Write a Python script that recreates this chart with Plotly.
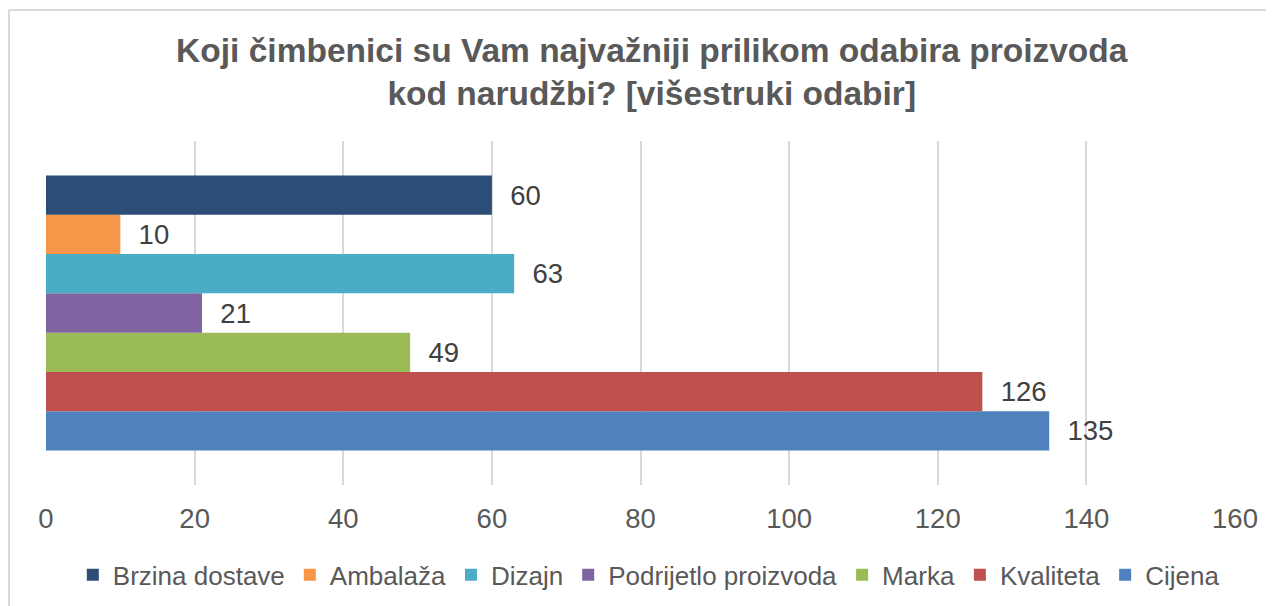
import plotly.graph_objects as go

# Data (legend order, top to bottom in the chart)
series = ["Brzina dostave", "Ambalaža", "Dizajn", "Podrijetlo proizvoda", "Marka", "Kvaliteta", "Cijena"]
values = [60, 10, 63, 21, 49, 126, 135]
colors = ["#2C4D75", "#F79646", "#4BACC6", "#8064A2", "#9BBB59", "#C0504D", "#4F81BD"]
category = ["Odgovori"]
x_ticks = [0, 20, 40, 60, 80, 100, 120, 140, 160]

title_text = "Koji čimbenici su Vam najvažniji prilikom odabira proizvoda<br>kod narudžbi? [višestruki odabir]"

FONT = "Liberation Sans, Arial, sans-serif"

fig = go.Figure()
# Plotly places the first grouped trace at the bottom, so add in reverse
for name, val, col in reversed(list(zip(series, values, colors))):
    fig.add_trace(go.Bar(
        y=category, x=[val], name=name, orientation="h",
        marker=dict(color=col, line=dict(width=0)),
        text=[val], texttemplate="\u00a0\u00a0%{x}", textposition="outside",
        textfont=dict(size=27.5, color="#404040", family=FONT),
        constraintext="none", cliponaxis=False,
    ))

fig.update_layout(
    width=1266, height=598,
    paper_bgcolor="white", plot_bgcolor="white",
    margin=dict(l=38, r=39, t=133, b=121),
    barmode="group", bargap=0.2, bargroupgap=0,
    font=dict(family=FONT, color="#595959"),
    title=dict(text=title_text, x=0.5085, xanchor="center", xref="container",
               y=0.91, yanchor="top", yref="container",
               font=dict(size=33.5, color="#595959", family=FONT, weight="bold")),
    xaxis=dict(range=[x_ticks[0], x_ticks[-1]], tickvals=x_ticks,
               showgrid=True, gridcolor="#D9D9D9", gridwidth=2,
               zeroline=False, showline=False, ticks="", ticklabelstandoff=14,
               tickfont=dict(size=27.5, color="#595959")),
    yaxis=dict(showticklabels=False, showgrid=False, zeroline=False, showline=False, ticks=""),
    legend=dict(orientation="h", x=0.507, xanchor="center",
                yref="container", y=0.052, yanchor="middle",
                traceorder="reversed", font=dict(size=26, color="#595959"),
                itemwidth=30, tracegroupgap=0),
    showlegend=True,
)

# Chart-area border (left and top edges visible in the reference)
fig.add_shape(type="line", xref="paper", yref="paper", x0=-0.0311, x1=-0.0311, y0=-0.5, y1=1.381,
              line=dict(color="#D9D9D9", width=2))
fig.add_shape(type="line", xref="paper", yref="paper", x0=-0.0311, x1=1.1, y0=1.381, y1=1.381,
              line=dict(color="#D9D9D9", width=2))

fig.write_html("out.html")
